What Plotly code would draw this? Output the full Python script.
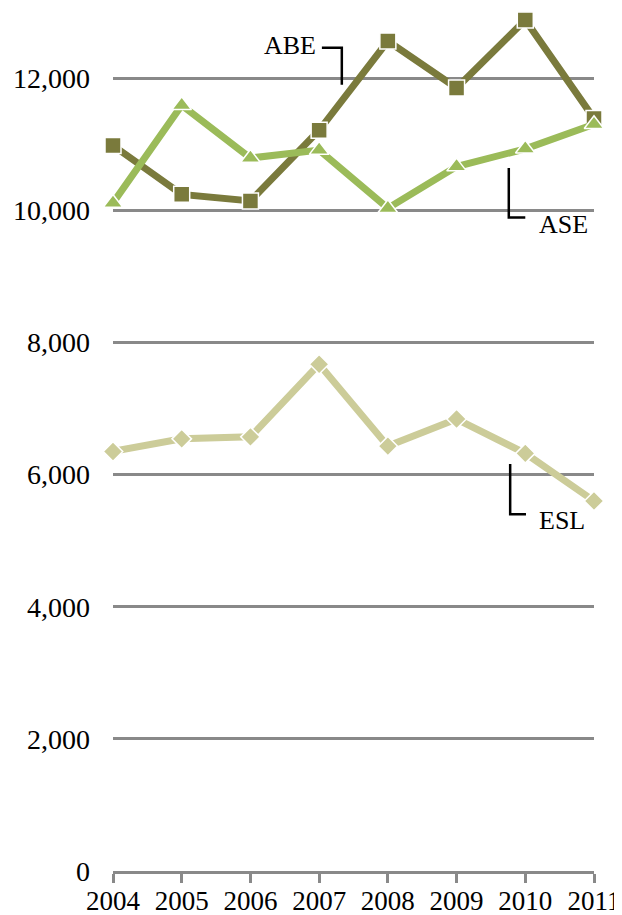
import plotly.graph_objects as go

years = [2004, 2005, 2006, 2007, 2008, 2009, 2010, 2011]
abe = [10980, 10240, 10140, 11210, 12560, 11850, 12880, 11390]
ase = [10110, 11590, 10790, 10910, 10030, 10660, 10930, 11300]
esl = [6350, 6540, 6570, 7670, 6430, 6840, 6320, 5600]
y_ticks = [0, 2000, 4000, 6000, 8000, 10000, 12000]

FONT = "Liberation Serif"


def series(y, name, color, symbol, size):
    return go.Scatter(x=years, y=y, name=name,
                      mode="lines+markers",
                      line=dict(color=color, width=7),
                      marker=dict(symbol=symbol, size=size, color=color,
                                  line=dict(color="white", width=1.5)),
                      cliponaxis=False)


fig = go.Figure()
fig.add_trace(series(esl, "ESL", "rgb(204,204,153)", "diamond", 15))
fig.add_trace(series(abe, "ABE", "rgb(122,122,60)", "square", 16))
fig.add_trace(series(ase, "ASE", "rgb(155,187,89)", "triangle-up", 17))

# label leaders (elbow lines)
leaders = [
    ("M 2007.04,12460 L 2007.33,12460 L 2007.33,11900"),
    ("M 2009.76,10640 L 2009.76,9890 L 2010.0,9890"),
    ("M 2009.78,6160 L 2009.78,5400 L 2010.01,5400"),
]
for p in leaders:
    fig.add_shape(type="path", path=p, xref="x", yref="y",
                  line=dict(color="black", width=2.5))

fig.add_annotation(x=2006.98, y=12500, text="ABE", showarrow=False,
                   xanchor="right", font=dict(size=26, family=FONT, color="black"))
fig.add_annotation(x=2010.17, y=9780, text="ASE", showarrow=False,
                   xanchor="left", font=dict(size=26, family=FONT, color="black"))
fig.add_annotation(x=2010.17, y=5300, text="ESL", showarrow=False,
                   xanchor="left", font=dict(size=26, family=FONT, color="black"))

# page body adds 8px margin, so the figure is sized 8px smaller
fig.update_layout(
    width=614, height=907,
    margin=dict(l=105, r=28, t=4, b=44, autoexpand=False),
    paper_bgcolor="white", plot_bgcolor="white",
    showlegend=False,
    font=dict(family=FONT, size=28, color="black"),
    xaxis=dict(range=[2004, 2011], tickvals=years, ticktext=[str(y) for y in years],
               showgrid=False, zeroline=False, automargin=False,
               showline=True, linecolor="rgb(137,137,137)", linewidth=3,
               ticks="outside", ticklen=9, tickwidth=3, tickcolor="rgb(137,137,137)",
               tickfont=dict(size=27, family=FONT), ticklabelstandoff=-5),
    yaxis=dict(range=[0, 13000], tickvals=y_ticks,
               ticktext=[f"{v:,}" for v in y_ticks],
               showgrid=True, gridcolor="rgb(137,137,137)", gridwidth=3,
               zeroline=False, showline=False, ticks="", automargin=False,
               tickfont=dict(size=28, family=FONT), ticklabelstandoff=22),
)

fig.write_html("out.html")
